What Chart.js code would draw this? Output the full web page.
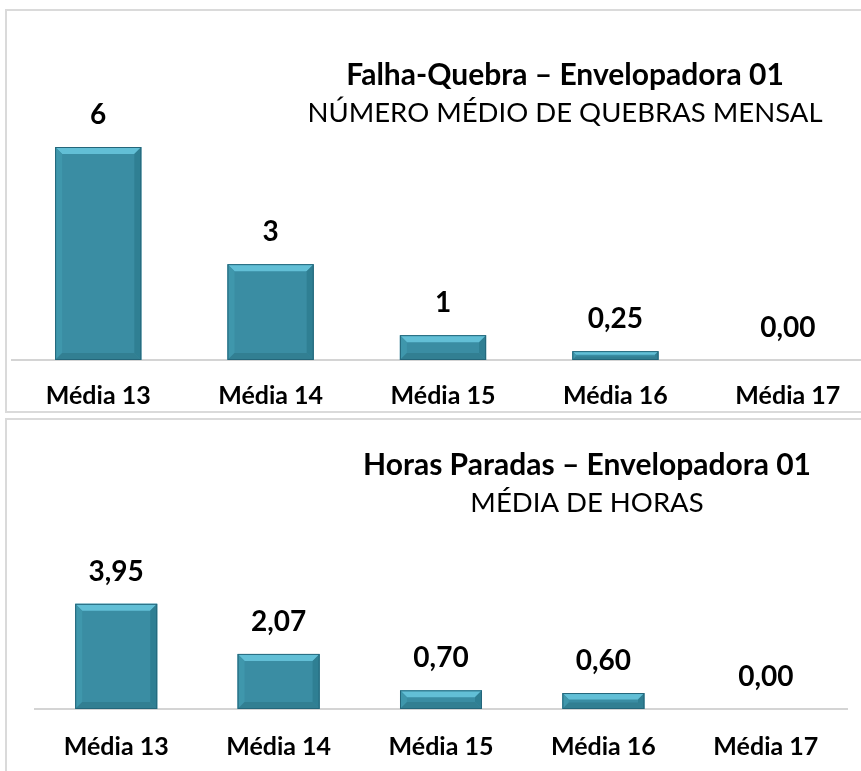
<!DOCTYPE html>
<html>
<head>
<meta charset="utf-8">
<script src="https://cdn.jsdelivr.net/npm/chart.js@4.4.0/dist/chart.umd.min.js"></script>
<style>
  body { margin: 0; background: #fff; overflow: hidden; width: 861px; height: 771px; position: relative; }
  .box { position: absolute; border: 2px solid #dadada; border-right: none; }
  .wrap { position: absolute; left: 0; }
</style>
</head>
<body>
<div class="box" style="left:5px; top:9px; width:900px; height:400px;"></div>
<div class="box" style="left:5px; top:418px; width:900px; height:400px;"></div>
<div class="wrap" style="top:10px; width:877px; height:424px;"><canvas id="chartQuebra"></canvas></div>
<div class="wrap" style="top:419px; width:861px; height:375px;"><canvas id="chartHoras"></canvas></div>
<script>
// categorias
const categorias = ["Média 13", "Média 14", "Média 15", "Média 16", "Média 17"];

// Falha-Quebra (altura das barras) e rótulos exibidos
const quebras = [6, 2.7, 0.7, 0.25, 0];
const quebrasRotulos = ["6", "3", "1", "0,25", "0,00"];

// Horas paradas
const horas = [3.95, 2.07, 0.70, 0.60, 0];
const horasRotulos = ["3,95", "2,07", "0,70", "0,60", "0,00"];

const FONT = "Lato, 'Open Sans', sans-serif";

// rótulos de valor acima das barras
const valueLabels = {
  id: "valueLabels",
  afterDatasetsDraw(chart, args, opts) {
    const ctx = chart.ctx;
    const meta = chart.getDatasetMeta(0);
    ctx.save();
    ctx.font = "bold 28px " + FONT;
    ctx.fillStyle = "#000";
    ctx.textAlign = "center";
    ctx.textBaseline = "middle";
    meta.data.forEach((bar, i) => {
      ctx.fillText(opts.labels[i], bar.x, bar.y - 32);
    });
    ctx.restore();
  }
};

// efeito de chanfro nas barras
const bevel = {
  id: "bevel",
  afterDatasetsDraw(chart) {
    const ctx = chart.ctx;
    const meta = chart.getDatasetMeta(0);
    ctx.save();
    meta.data.forEach(bar => {
      const h = bar.base - bar.y;
      if (h <= 0) return;
      const l = bar.x - bar.width / 2, r = bar.x + bar.width / 2;
      const t = bar.y, b = bar.base;
      const s = Math.min(7, h / 2.5);
      const poly = (pts, c) => {
        ctx.beginPath();
        ctx.moveTo(pts[0][0], pts[0][1]);
        pts.slice(1).forEach(p => ctx.lineTo(p[0], p[1]));
        ctx.closePath();
        ctx.fillStyle = c;
        ctx.fill();
      };
      poly([[l, t], [r, t], [r - s, t + s], [l + s, t + s]], "#62bfd6");
      poly([[l, t], [l + s, t + s], [l + s, b - s], [l, b]], "#3f97ac");
      poly([[r, t], [r - s, t + s], [r - s, b - s], [r, b]], "#2f7f93");
      poly([[l, b], [l + s, b - s], [r - s, b - s], [r, b]], "#327f92");
      ctx.strokeStyle = "#24667a";
      ctx.lineWidth = 1;
      ctx.strokeRect(l + 0.5, t + 0.5, bar.width - 1, h - 1);
    });
    ctx.restore();
  }
};

// títulos
const titulos = {
  id: "titulos",
  afterDraw(chart, args, opts) {
    const ctx = chart.ctx;
    ctx.save();
    ctx.fillStyle = "#000";
    ctx.textAlign = "center";
    ctx.textBaseline = "middle";
    ctx.font = "bold 30px " + FONT;
    ctx.fillText(opts.linha1, opts.x, opts.y1);
    ctx.font = "27.5px " + FONT;
    ctx.fillText(opts.linha2, opts.x, opts.y2);
    ctx.restore();
  }
};

function makeChart(id, values, labels, pad, tickPad, barPct, t) {
  return new Chart(document.getElementById(id), {
    type: "bar",
    data: {
      labels: categorias,
      datasets: [{
        data: values,
        backgroundColor: "#3a8da3",
        borderWidth: 0,
        categoryPercentage: 1,
        barPercentage: barPct
      }]
    },
    options: {
      responsive: true,
      maintainAspectRatio: false,
      animation: false,
      layout: { padding: pad },
      plugins: {
        legend: { display: false },
        tooltip: { enabled: false },
        valueLabels: { labels: labels },
        titulos: t
      },
      scales: {
        x: {
          grid: { display: false, drawTicks: false },
          border: { display: true, color: "#d4d4d4", width: 2 },
          ticks: { color: "#000", padding: tickPad, font: { family: FONT, size: 25, weight: "bold" } }
        },
        y: { display: false, min: 0, max: 8 }
      }
    },
    plugins: [bevel, valueLabels, titulos]
  });
}

makeChart("chartQuebra", quebras, quebrasRotulos,
  { left: 12, right: 3, top: 66, bottom: 2 }, 21, 0.5,
  { linha1: "Falha-Quebra – Envelopadora 01", linha2: "NÚMERO MÉDIO DE QUEBRAS MENSAL", x: 565, y1: 65, y2: 103 });

makeChart("chartHoras", horas, horasRotulos,
  { left: 35, right: 14, top: 77, bottom: 9 }, 23, 0.505,
  { linha1: "Horas Paradas – Envelopadora 01", linha2: "MÉDIA DE HORAS", x: 587, y1: 46, y2: 84 });
</script>
</body>
</html>
